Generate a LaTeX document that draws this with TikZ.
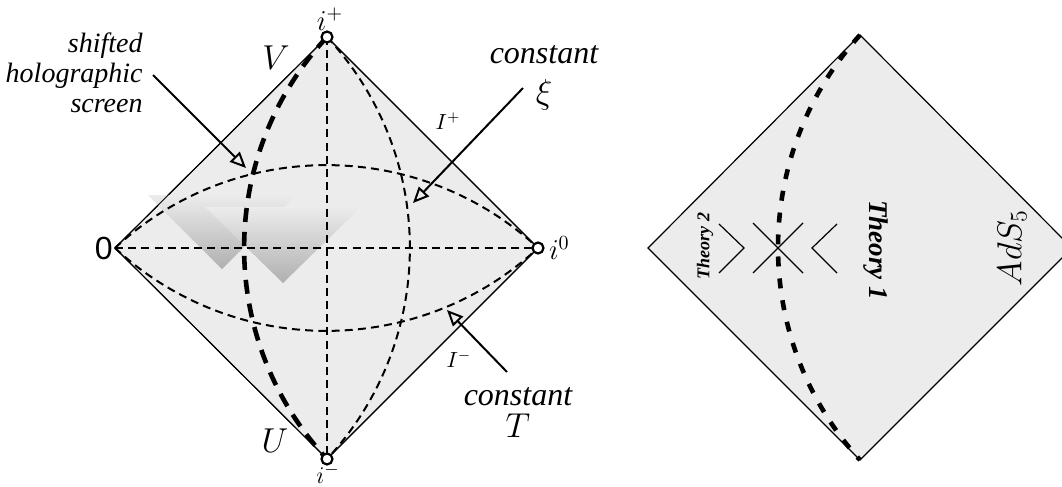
\documentclass[tikz,border=0pt]{standalone}
\usepackage{amsmath}
\usepackage{fontspec}
\setmainfont{Liberation Serif}
\newfontfamily\labelfont{Liberation Serif}
\newfontfamily\zerofont{Liberation Sans}
\usetikzlibrary{arrows.meta,positioning}

\begin{document}
\begin{tikzpicture}[
      x=0.5pt, y=-0.5pt, % one unit = one pixel of the sketch
      diamondfill/.style={fill=gray!15, draw=black, line width=0.6pt},
      thindash/.style={line width=1pt, dash pattern=on 4pt off 2.6pt},
      thickdash/.style={line width=2.3pt, dash pattern=on 7pt off 5pt},
      screendash/.style={line width=2.3pt, dash pattern=on 5pt off 6pt},
      endpoint/.style={circle, draw=black, fill=white, line width=1.1pt,
          minimum size=5.5pt, inner sep=0pt},
      callout/.style={-{Triangle[open, length=8pt, width=7pt]}, line width=1pt},
      cone/.style={top color=gray!15, bottom color=gray!62},
      mathlbl/.style={font=\fontsize{14}{16}\selectfont, inner sep=1pt},
      biglbl/.style={font=\labelfont\fontsize{16}{19}\selectfont\itshape, align=center},
      smalllbl/.style={font=\labelfont\fontsize{14}{15}\selectfont\itshape, align=right}
  ]
      \useasboundingbox (0,0) rectangle (1062,487);
      \clip (0,0) rectangle (1062,487);

      % Left diagram: corners
      \coordinate (ip) at (327,37);
      \coordinate (im) at (327,459);
      \coordinate (zero) at (115,248);
      \coordinate (izero) at (538,248);
      \draw [diamondfill] (zero) -- (ip) -- (izero) -- (im) -- cycle;

      % light cones
      \shade [cone] (148,195) -- (296,195) -- (222,269) -- cycle;
      \shade [cone] (205,207) -- (361,207) -- (283,283) -- cycle;

      % coordinate lines
      \draw [thindash] (ip) -- (im);
      \draw [thindash] (zero) -- (izero);
      \draw [thindash] (zero) .. controls (234,137.5) and (419,137.5) .. (izero);
      \draw [thindash] (zero) .. controls (234,358.5) and (419,358.5) .. (izero);
      \draw [thindash] (ip) .. controls (437.5,156) and (437.5,340) .. (im);
      \draw (zero) -- (ip) -- (izero) -- (im) -- cycle;
      \draw [thickdash] (ip) .. controls (216.5,156) and (216.5,340) .. (im);

      % end points
      \node (ipdot) [endpoint] at (ip) {};
      \node (imdot) [endpoint] at (im) {};
      \node (izerodot) [endpoint] at (izero) {};

      % labels
      \node (iplbl) [mathlbl] at (330,19) {$i^{+}$};
      \node (imlbl) [font=\fontsize{13}{14}\selectfont, inner sep=0pt] at (328,474) {$i^{-}$};
      \node (izerolbl) [mathlbl, right=1pt of izerodot] {$i^{0}$};
      \node (zerolbl) [font=\zerofont\fontsize{16}{18}\selectfont, inner sep=0pt, anchor=east]
          at ([xshift=-1pt]zero) {0};
      \node (vlbl) [font=\fontsize{17}{19}\selectfont] at (276,58) {$V$};
      \node (ulbl) [font=\fontsize{17}{19}\selectfont] at (275,441) {$U$};
      \node (scriplus) [font=\fontsize{10.5}{12}\selectfont] at (448,121) {$I^{+}$};
      \node (scriminus) [font=\fontsize{10.5}{12}\selectfont] at (459,359) {$I^{-}$};

      % callouts
      \node (screenlbl) [smalllbl, anchor=east, inner sep=0pt] at (143,73) {shifted\\holographic\\screen};
      \node (xilbl) [biglbl] at (544,78) {constant\\[1pt]$\xi$};
      \node (tlbl) [biglbl] at (518,412) {constant\\[-3pt]$T$};
      \coordinate (screentip) at (246,168);
      \coordinate (xitip) at (413,203);
      \coordinate (ttip) at (447,310);
      \draw [callout] (153,75) -- (screentip);
      \draw [callout] (523,88) -- (xitip);
      \draw [callout] (507,372) -- (ttip);

      % Right diagram
      \coordinate (rtop) at (860,35);
      \coordinate (rbot) at (860,460);
      \coordinate (rleft) at (648,248);
      \coordinate (rright) at (1072,248);
      \draw [diamondfill] (rleft) -- (rtop) -- (rright) -- (rbot) -- cycle;
      \draw [screendash] (rtop) .. controls (750.7,155.5) and (750.7,339.5) .. (rbot);

      % cones on the screen
      \coordinate (cross) at (778,248);
      \draw [line width=0.6pt] (753,223) -- (803,273) (803,223) -- (753,273);
      \draw [line width=0.6pt] (719,224) -- (744,248) -- (719,273);
      \draw [line width=0.6pt] (837,224) -- (812,248) -- (837,273);

      \node (theorytwo) [rotate=90, font=\labelfont\fontsize{9}{10}\selectfont\bfseries\itshape]
          at (705,246) {Theory 2};
      \node (theoryone) [rotate=-90, font=\labelfont\fontsize{13.5}{15}\selectfont\bfseries\itshape]
          at (876,250) {Theory 1};
      \node (adslbl) [rotate=90, font=\fontsize{17}{19}\selectfont] at (1012,248) {$AdS_5$};
  \end{tikzpicture}
\end{document}
